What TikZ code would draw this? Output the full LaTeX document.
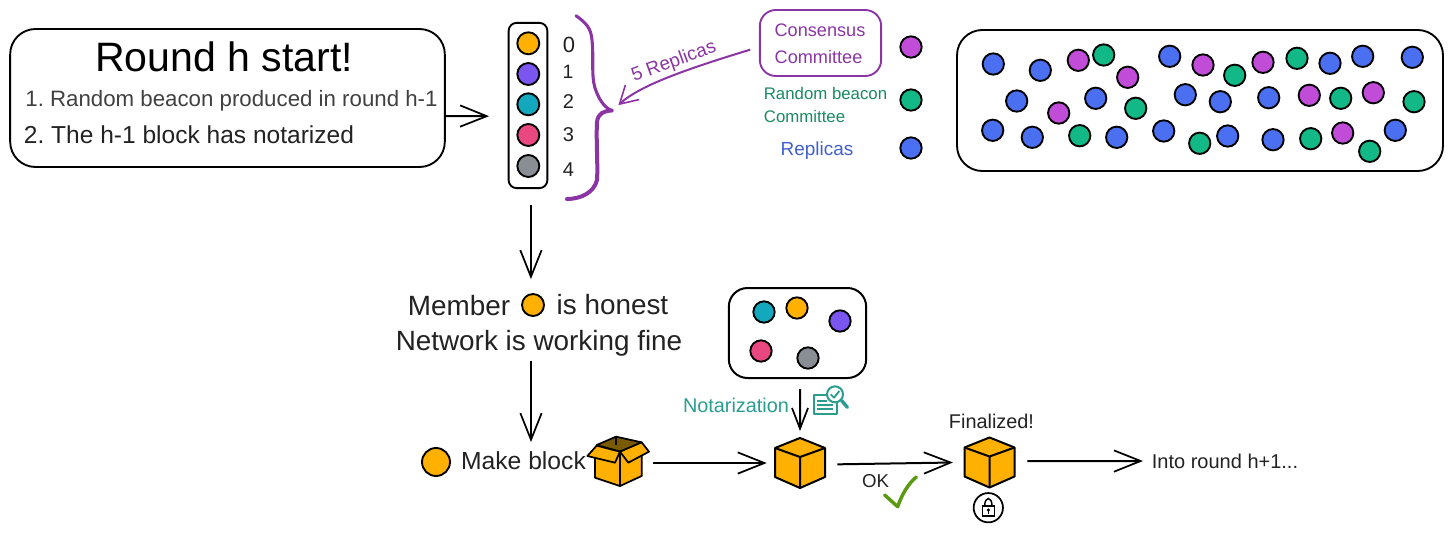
\documentclass[tikz,border=0pt]{standalone}
\usepackage{fontspec}
\setmainfont{Liberation Sans}
\frenchspacing
\usetikzlibrary{arrows.meta}
\definecolor{cOrange}{HTML}{FFB000}
\definecolor{cViolet}{HTML}{7A55F0}
\definecolor{cTeal}{HTML}{14A8BF}
\definecolor{cPink}{HTML}{E8487F}
\definecolor{cGrey}{HTML}{888E94}
\definecolor{cBlue}{HTML}{4A6FF0}
\definecolor{cMag}{HTML}{C04CD8}
\definecolor{cGreen}{HTML}{12B886}
\definecolor{cCons}{HTML}{8B35A5}
\definecolor{cRand}{HTML}{1A8A60}
\definecolor{cRep}{HTML}{4060D0}
\definecolor{cNot}{HTML}{2A9D8F}
\definecolor{cOk}{HTML}{5A9A10}
\definecolor{cBrown}{HTML}{7A5A00}
\definecolor{cText}{HTML}{222222}
\tikzset{
  dot/.style={circle,draw=black,line width=1.4pt,minimum size=16pt,inner sep=0pt},
  bigdot/.style={circle,draw=black,line width=1.4pt,minimum size=21pt,inner sep=0pt},
  panel/.style={draw=black,line width=1.4pt,rounded corners=19pt,inner sep=0pt},
  txt/.style={inner sep=0pt,text=cText,align=center},
  arr/.style={-{Straight Barb[length=20pt,width=16pt,line width=1.3pt]},line width=1.5pt,black},
  arrsmall/.style={-{Straight Barb[length=15.5pt,width=12pt,line width=1.3pt]},line width=1.5pt,black},
  cubeic/.pic={
    \filldraw[fill=cOrange,draw=black,line width=1.5pt,line join=round]
      (0,-25)--(25,-15)--(25,14)--(0,25)--(-25,14)--(-25,-15)--cycle;
    \draw[black,line width=1.5pt,line join=round] (-25,-15)--(0,-6)--(25,-15) (0,-6)--(0,25);
  }
}
\begin{document}
\begin{tikzpicture}[x=.75pt,y=-.75pt]
\useasboundingbox (0,0) rectangle (1453,532);

% top-left panel
\node[panel,minimum width=326pt,minimum height=103.5pt] (startbox) at (227.5,98) {};
\node[txt,text=black,font=\fontsize{30.8pt}{34pt}\selectfont] (title) at (224,57) {Round h start!};
\node[txt,text=black!75,font=\fontsize{16.7pt}{20pt}\selectfont] (line1) at (231.5,101) {1. Random beacon produced in round h-1};
\node[txt,font=\fontsize{18.4pt}{22pt}\selectfont] (line2) at (189,135) {2. The h-1 block has notarized};

% committee list
\node[draw=black,line width=1.4pt,rounded corners=6pt,minimum width=29pt,minimum height=124pt,inner sep=0pt] (list) at (528,105.5) {};
\node[dot,minimum size=16.5pt,fill=cOrange] (m0) at (528.3,43.3) {};
\node[dot,minimum size=16.5pt,fill=cViolet] (m1) at (528.3,74) {};
\node[dot,minimum size=16.5pt,fill=cTeal] (m2) at (528.3,104.3) {};
\node[dot,minimum size=16.5pt,fill=cPink] (m3) at (528.3,135) {};
\node[dot,minimum size=16.5pt,fill=cGrey] (m4) at (528.3,166) {};
\node[txt,font=\fontsize{16.5pt}{18pt}\selectfont] (n0) at (569,45) {0};
\node[txt,font=\fontsize{14.5pt}{18pt}\selectfont] (n1) at (568,72) {1};
\node[txt,font=\fontsize{15pt}{18pt}\selectfont] (n2) at (568.5,102) {2};
\node[txt,font=\fontsize{15pt}{18pt}\selectfont] (n3) at (568.5,135) {3};
\node[txt,font=\fontsize{15pt}{18pt}\selectfont] (n4) at (568.5,170) {4};

% brace
\coordinate (bracetip) at (611.7,110.5);
\draw[cCons,line width=2.3pt,line cap=round]
  (576,15.7) .. controls (586,23) and (591,28) .. (592,40)
  .. controls (594,60) and (591,75) .. (595,88)
  .. controls (598,97) and (603,107) .. (bracetip);
\draw[cCons,line width=3pt,line cap=round]
  (bracetip) .. controls (604,111) and (598,113) .. (597,122)
  .. controls (596,140) and (598,165) .. (597,180)
  .. controls (594,193) and (580,199) .. (567,199);

% legend
\node[draw=cCons,line width=1.4pt,rounded corners=12pt,minimum width=91pt,minimum height=49.5pt,inner sep=0pt] (cons) at (820.5,43) {};
\node[txt,text=cCons,font=\fontsize{13.6pt}{16pt}\selectfont] (ct1) at (820,30) {Consensus};
\node[txt,text=cCons,font=\fontsize{13.6pt}{16pt}\selectfont] (ct2) at (818.5,57) {Committee};
\node[txt,text=cRand,font=\fontsize{12.6pt}{15pt}\selectfont] (rt1) at (825.5,93) {Random beacon};
\node[txt,text=cRand,font=\fontsize{12.6pt}{15pt}\selectfont] (rt2) at (804.5,116) {Committee};
\node[txt,text=cRep,font=\fontsize{14.2pt}{17pt}\selectfont] (rep) at (817,151) {Replicas};
\node[dot,fill=cMag] (lg1) at (911,47) {};
\node[dot,fill=cGreen] (lg2) at (911,100) {};
\node[dot,fill=cBlue] (lg3) at (911,148) {};

\draw[cCons,line width=1.5pt,-{Straight Barb[length=13pt,width=15pt,line width=1.2pt]}]
  ([xshift=-6.5pt,yshift=-5pt]cons.west) .. controls (690,68) and (640,85) .. ([xshift=5pt,yshift=4pt]bracetip);
\node[txt,text=cCons,rotate=20,font=\fontsize{14.2pt}{17pt}\selectfont] (five) at (674,62) {5 Replicas};

% replica pool
\node[panel,minimum width=364.5pt,minimum height=105.75pt] (pool) at (1200,100.5) {};
\foreach \p/\q in {993.3/64,1040.3/70.3,1016.7/101,992.7/130.3,1032.3/137.3,1095.7/98.3,1116.7/137.3,1169.7/56.3,1185.3/94.7,1220.3/101.7,1163.7/131,1227.7/136,1273/139.7,1268.7/97.7,1330/63.3,1362.7/56.3,1412.3/57.3,1395.3/130.3}
  \node[dot,fill=cBlue] at (\p,\q) {};
\foreach \p/\q in {1078.3/60.3,1127.7/77.3,1058.7/113,1203/65,1263/62.3,1309.3/95.3,1373.3/92.7,1342.7/133}
  \node[dot,fill=cMag] at (\p,\q) {};
\foreach \p/\q in {1103.7/55,1135.7/108.3,1079.7/135.7,1199.7/143.3,1234.7/75.3,1297/58.3,1340.7/98.3,1414/101.7,1310.7/138.7,1369.7/151.3}
  \node[dot,fill=cGreen] at (\p,\q) {};

% honest text
\node[txt,font=\fontsize{20.9pt}{25pt}\selectfont] (mem) at (459,306) {Member};
\node[dot,minimum size=16.5pt,fill=cOrange] (mdot) at (533,305) {};
\node[txt,font=\fontsize{20.9pt}{25pt}\selectfont] (hon) at (612.5,305) {is honest};
\node[txt,font=\fontsize{20.9pt}{25pt}\selectfont] (net) at (539,343.5) {Network is working fine};

% notary group
\node[draw=black,line width=1.5pt,rounded corners=14pt,minimum width=103pt,minimum height=67.5pt,inner sep=0pt] (group) at (797.5,333) {};
\node[dot,fill=cTeal] (g1) at (764,312) {};
\node[dot,fill=cOrange] (g2) at (797,308) {};
\node[dot,fill=cViolet] (g3) at (840,321) {};
\node[dot,fill=cPink] (g4) at (761,351) {};
\node[dot,fill=cGrey] (g5) at (808,358) {};

% bottom row
\node[bigdot,fill=cOrange] (maker) at (436,462) {};
\node[txt,font=\fontsize{18.5pt}{22pt}\selectfont] (mk) at (523.5,461) {Make block};
\node[txt,text=cNot,font=\fontsize{14.9pt}{18pt}\selectfont] (nota) at (736,405) {Notarization};
\node[txt,font=\fontsize{14.9pt}{18pt}\selectfont] (fin) at (991.5,421) {Finalized!};
\node[txt,font=\fontsize{14pt}{17pt}\selectfont] (ok) at (875.5,481) {OK};
\node[txt,font=\fontsize{15pt}{18pt}\selectfont] (into) at (1225,461) {Into round h+1...};

% anchors for block icons
\node[inner sep=0pt,minimum width=37.5pt,minimum height=37.5pt] (cube1) at (800,463) {};
\node[inner sep=0pt,minimum width=37.5pt,minimum height=37.5pt] (cube2) at (989.5,462.5) {};
\node[inner sep=0pt,minimum width=35pt,minimum height=37.5pt] (openbox) at (619,461) {};
\pic at (cube1) {cubeic};
\pic at (cube2) {cubeic};

% open box
\begin{scope}[shift={(580,380)},x=.25pt,y=-.25pt,line join=round,line width=1.3pt]
  \filldraw[fill=cBrown,draw=black] (50,195)--(108,170)--(185,187)--(120,215)--cycle;
  \draw[black] (108,170)--(108,195);
  \filldraw[fill=cOrange,draw=black] (45,228)--(45,293)--(120,318)--(120,215)--cycle;
  \filldraw[fill=cOrange,draw=black] (120,318)--(185,288)--(185,225)--(120,215)--cycle;
  \filldraw[fill=cOrange,draw=black] (50,197)--(22,228)--(105,248)--(120,215)--cycle;
  \filldraw[fill=cOrange,draw=black] (120,215)--(185,187)--(207,215)--(145,248)--cycle;
\end{scope}

% notarization icon
\begin{scope}[shift={(580,380)},x=.25pt,y=-.25pt,line join=round,cNot]
  \draw[line width=1.5pt,fill=white] (740,46)--(703,46)--(703,101)--(770,101)--(770,70);
  \draw[line width=1.5pt] (712,62)--(742,62) (712,75)--(760,75) (712,88)--(760,88);
  \draw[line width=1.5pt,fill=white] (765,43) circle[radius=24];
  \draw[line width=2.6pt,line cap=round] (785,62)--(802,82);
  \draw[line width=1.4pt] (752,43)--(762,53)--(778,33);
\end{scope}

% check mark
\begin{scope}[shift={(860,400)},x=.25pt,y=-.25pt]
  \draw[cOk,line width=2.6pt,line join=round,line cap=round] (74,285)--(113,320)..controls (125,285) and (145,250) ..(169,231);
\end{scope}

% lock
\node[circle,draw=black,line width=1.3pt,minimum size=22pt,inner sep=0pt] (lock) at (988.3,507.7) {};
\begin{scope}[shift={(860,400)},x=.25pt,y=-.25pt,line width=1.1pt,black]
  \draw (367,318) rectangle (403,348);
  \draw (374,318) .. controls (374,288) and (396,288) .. (396,318);
  \fill (385,330) circle[radius=5];
  \draw (385,330)--(385,342);
\end{scope}

% connectors
\draw[arr] ([yshift=-13.5pt]startbox.east) -- ([xshift=-14pt,yshift=-8pt]list.west);
\draw[arr] ([xshift=2.2pt,yshift=-12pt]list.south) -- ([xshift=2.2pt,yshift=-67.5pt]list.south);
\draw[arr] ([xshift=-6pt,yshift=-3pt]net.south) -- ([xshift=-6pt,yshift=-64pt]net.south);
\draw[arrsmall] ([xshift=1.9pt,yshift=-7.5pt]group.south) -- ([yshift=5pt]cube1.north);
\draw[arr] ([xshift=8pt,yshift=-1.5pt]openbox.east) -- ([xshift=-6pt]cube1.west);
\draw[arr] ([xshift=9pt,yshift=-1pt]cube1.east) -- ([xshift=-8.5pt]cube2.west);
\draw[arr] ([xshift=9.5pt,yshift=1pt]cube2.east) -- ([xshift=-6.5pt]into.west);
\end{tikzpicture}
\end{document}
